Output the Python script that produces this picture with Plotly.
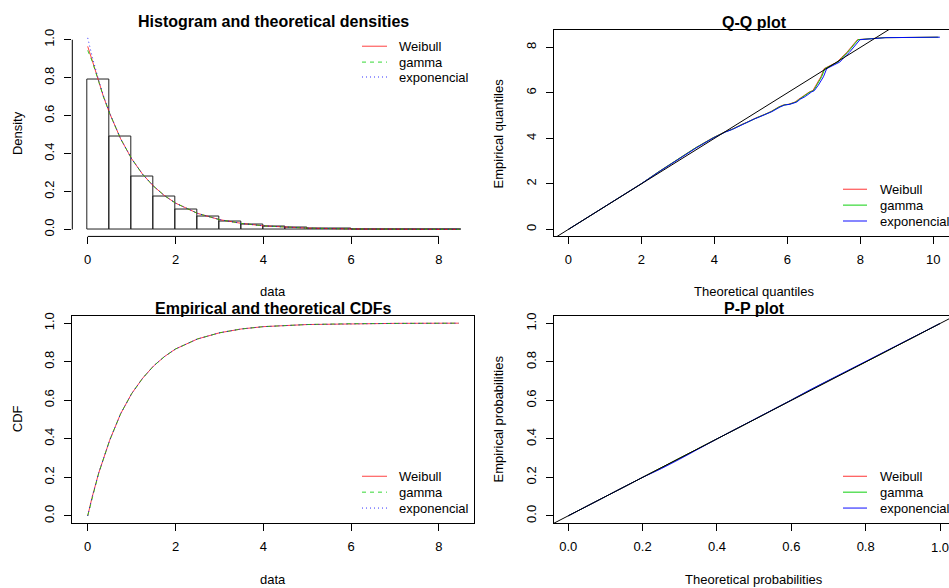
import plotly.graph_objects as go

W, H = 949, 588
FONT = "Liberation Sans, Arial, sans-serif"

# ---------------- data ----------------
names = ["Weibull", "gamma", "exponencial"]

# histogram (bins of width 0.5 starting at 0)
hist_left = [0.0, 0.5, 1.0, 1.5, 2.0, 2.5, 3.0, 3.5, 4.0, 4.5, 5.0, 5.5, 6.0, 6.5, 7.0, 7.5, 8.0]
hist_density = [0.792, 0.490, 0.281, 0.176, 0.106, 0.066, 0.043, 0.026, 0.017,
                0.010, 0.006, 0.004, 0.002, 0.0015, 0.001, 0.0006, 0.0004]
bin_width = 0.5

# theoretical densities
dens_x = [0.0, 0.05, 0.1, 0.25, 0.35, 0.5, 0.75, 1.0, 1.25, 1.5, 1.75, 2.0, 2.5, 3.0,
          3.5, 4.0, 4.5, 5.0, 6.0, 7.0, 8.45]
dens_weibull = [0.965, 0.925, 0.893, 0.782, 0.706, 0.612, 0.478, 0.373, 0.291, 0.228, 0.178,
                0.139, 0.085, 0.052, 0.032, 0.019, 0.012, 0.007, 0.0027, 0.001, 0.0002]
dens_gamma = [0.944, 0.915, 0.888, 0.780, 0.705, 0.612, 0.478, 0.373, 0.291, 0.228, 0.178,
              0.139, 0.085, 0.052, 0.032, 0.019, 0.012, 0.007, 0.0027, 0.001, 0.0002]
dens_expo = [1.010, 0.960, 0.913, 0.787, 0.711, 0.614, 0.478, 0.373, 0.291, 0.228, 0.178,
             0.139, 0.085, 0.052, 0.032, 0.019, 0.012, 0.007, 0.0027, 0.001, 0.0002]

# theoretical CDFs
cdf_x = [0.0, 0.1, 0.25, 0.5, 0.75, 1.0, 1.25, 1.5, 1.75, 2.0, 2.5, 3.0, 3.5, 4.0,
         5.0, 6.0, 7.0, 8.45]
cdf_weibull = [0.0, 0.096, 0.222, 0.392, 0.530, 0.634, 0.714, 0.778, 0.827, 0.866, 0.918,
               0.950, 0.970, 0.982, 0.993, 0.9975, 0.999, 1.0]
cdf_gamma = [0.0, 0.095, 0.221, 0.392, 0.530, 0.634, 0.714, 0.778, 0.827, 0.866, 0.918,
             0.950, 0.970, 0.982, 0.993, 0.9975, 0.999, 1.0]
cdf_expo = [0.0, 0.097, 0.223, 0.392, 0.530, 0.634, 0.714, 0.778, 0.827, 0.866, 0.918,
            0.950, 0.970, 0.982, 0.993, 0.9975, 0.999, 1.0]

# Q-Q plot: theoretical quantiles (x) vs empirical quantiles (y)
qq_emp = [0.0, 1.0, 2.01, 2.55, 3.07, 3.58, 4.02, 4.18, 4.28, 4.40, 4.48, 4.62, 4.70, 4.76,
          4.86, 4.92, 5.05, 5.10, 5.18, 5.38, 5.47, 5.50, 5.60, 5.72, 5.84, 6.05, 6.10,
          6.34, 6.71, 7.07, 7.20, 7.36, 7.55, 7.78, 8.34, 8.37, 8.43, 8.44, 8.45]
qq_weibull = [0.0, 1.0, 2.0, 2.49, 2.99, 3.48, 3.95, 4.15, 4.28, 4.48, 4.57, 4.76, 4.88, 4.95,
              5.08, 5.17, 5.37, 5.45, 5.55, 5.76, 5.89, 6.03, 6.21, 6.31, 6.43, 6.61, 6.70,
              6.78, 6.92, 7.01, 7.18, 7.37, 7.48, 7.63, 7.92, 8.30, 8.65, 9.45, 10.12]
qq_gamma = [0.0, 1.0, 2.0, 2.49, 2.99, 3.48, 3.96, 4.16, 4.29, 4.49, 4.58, 4.77, 4.89, 4.96,
            5.09, 5.18, 5.38, 5.46, 5.56, 5.77, 5.91, 6.05, 6.23, 6.33, 6.45, 6.63, 6.72,
            6.80, 6.94, 7.03, 7.20, 7.39, 7.50, 7.65, 7.94, 8.32, 8.67, 9.47, 10.14]
qq_expo = [0.0, 1.0, 2.0, 2.50, 3.00, 3.50, 3.97, 4.17, 4.30, 4.50, 4.60, 4.79, 4.90, 4.98,
           5.10, 5.20, 5.40, 5.48, 5.58, 5.80, 5.93, 6.07, 6.26, 6.35, 6.49, 6.67, 6.74,
           6.85, 6.99, 7.08, 7.25, 7.44, 7.55, 7.70, 7.99, 8.36, 8.70, 9.50, 10.18]

# P-P plot: theoretical probabilities (x) vs empirical probabilities (y)
pp_emp = [0.0, 0.1, 0.2, 0.245, 0.295, 0.4, 0.5, 0.602, 0.655, 0.703, 0.8, 0.9, 1.0]
pp_weibull = [0.0, 0.1, 0.2, 0.248, 0.298, 0.4, 0.5, 0.600, 0.652, 0.700, 0.8, 0.9, 1.0]
pp_gamma = [0.0, 0.1, 0.2, 0.249, 0.299, 0.4, 0.5, 0.600, 0.651, 0.700, 0.8, 0.9, 1.0]
pp_expo = [0.0, 0.1, 0.2, 0.250, 0.300, 0.4, 0.5, 0.600, 0.650, 0.699, 0.8, 0.9, 1.0]

hist_xticks = [0, 2, 4, 6, 8]
prob_ticks = [0.0, 0.2, 0.4, 0.6, 0.8, 1.0]
prob_ticktext = ["0.0", "0.2", "0.4", "0.6", "0.8", "1.0"]
qq_xticks = [0, 2, 4, 6, 8, 10]
qq_yticks = [0, 2, 4, 6, 8]

# ---------------- styles ----------------
col_light = ["rgba(255,0,0,0.75)", "rgba(0,205,0,0.8)", "rgba(0,0,255,0.8)"]
col_solid = ["rgba(255,0,0,0.8)", "rgba(0,205,0,0.95)", "rgba(0,0,255,0.95)"]
dashes = ["solid", "4px,4px", "1px,3px"]
TXT = 13


def px_x(p):
    return p / W


def px_y(p):
    return 1 - p / H


fig = go.Figure()

# ---- panel 1: histogram + densities ----
fig.add_trace(go.Bar(
    x=[l + bin_width / 2 for l in hist_left], y=hist_density, width=bin_width,
    marker=dict(color="rgba(255,255,255,0)", line=dict(color="#222222", width=1)),
    xaxis="x", yaxis="y", showlegend=False, hoverinfo="skip"))
for ys, c, d in zip([dens_weibull, dens_gamma, dens_expo], col_light, dashes):
    fig.add_trace(go.Scatter(x=dens_x, y=ys, mode="lines",
                             line=dict(color=c, width=1, dash=d),
                             xaxis="x", yaxis="y", showlegend=False))

# ---- panel 2: Q-Q ----
for xs, c in zip([qq_weibull, qq_gamma, qq_expo], col_solid):
    fig.add_trace(go.Scatter(x=xs, y=qq_emp, mode="lines",
                             line=dict(color=c, width=1),
                             xaxis="x2", yaxis="y2", showlegend=False))
fig.add_trace(go.Scatter(x=[-2, 14], y=[-2, 14], mode="lines",
                         line=dict(color="black", width=1),
                         xaxis="x2", yaxis="y2", showlegend=False))

# ---- panel 3: CDFs ----
for ys, c, d in zip([cdf_weibull, cdf_gamma, cdf_expo], col_light, dashes):
    fig.add_trace(go.Scatter(x=cdf_x, y=ys, mode="lines",
                             line=dict(color=c, width=1, dash=d),
                             xaxis="x3", yaxis="y3", showlegend=False))

# ---- panel 4: P-P ----
for xs, c in zip([pp_weibull, pp_gamma, pp_expo], col_solid):
    fig.add_trace(go.Scatter(x=xs, y=pp_emp, mode="lines",
                             line=dict(color=c, width=1),
                             xaxis="x4", yaxis="y4", showlegend=False))
fig.add_trace(go.Scatter(x=[-0.2, 1.2], y=[-0.2, 1.2], mode="lines",
                         line=dict(color="black", width=1),
                         xaxis="x4", yaxis="y4", showlegend=False))

tickfont = dict(family=FONT, size=TXT, color="black")


def ax(domain, rng, tickvals, fmt=None, showline=True, mirror=False, angle=None, standoff=4,
       ticktext=None):
    d = dict(domain=domain, range=rng, tickmode="array", tickvals=tickvals,
             showgrid=False, zeroline=False, ticks="outside", ticklen=7, tickwidth=1,
             tickcolor="black", tickfont=tickfont, showline=showline, mirror=mirror,
             linecolor="black", linewidth=1, fixedrange=True,
             ticklabelstandoff=standoff)
    if ticktext is not None:
        d["ticktext"] = ticktext
    if fmt:
        d["tickformat"] = fmt
    if angle is not None:
        d["tickangle"] = angle
    return d


top_y = [px_y(234), px_y(25.7)]
bot_y = [px_y(522.7), px_y(314)]
left_x = [px_x(72.3), px_x(474)]
right_x = [px_x(553.7), 1.0]

# the last P-P x label runs past the page edge: drawn separately below
pp_x_ticktext = prob_ticktext[:-1] + [""]

fig.update_layout(
    width=W, height=H, margin=dict(l=0, r=0, t=0, b=0),
    paper_bgcolor="white", plot_bgcolor="white", bargap=0,
    showlegend=False,
    xaxis=ax(left_x, [-0.351, 8.798], hist_xticks, showline=False),
    yaxis=ax(top_y, [-0.0366, 1.054], prob_ticks, ".1f", showline=False, angle=-90, standoff=5),
    xaxis2=ax(right_x, [-0.4, 10.43], qq_xticks, mirror=True),
    yaxis2=ax(top_y, [-0.306, 8.787], qq_yticks, angle=-90, standoff=5),
    xaxis3=ax(left_x, [-0.351, 8.798], hist_xticks, mirror=True),
    yaxis3=ax(bot_y, [-0.038, 1.038], prob_ticks, ".1f", mirror=True, angle=-90, standoff=5),
    xaxis4=ax(right_x, [-0.0393, 1.0242], prob_ticks, mirror=True, ticktext=pp_x_ticktext),
    yaxis4=ax(bot_y, [-0.0383, 1.0398], prob_ticks, ".1f", angle=-90, standoff=5),
)
for k in ["xaxis", "xaxis2", "xaxis3", "xaxis4"]:
    fig.layout[k].anchor = "y" + k[5:]
for k in ["yaxis", "yaxis2", "yaxis3", "yaxis4"]:
    fig.layout[k].anchor = "x" + k[5:]

shapes = []
# R-style axis lines for the histogram (from first to last tick)
shapes.append(dict(type="line", xref="x", yref="y domain", x0=hist_xticks[0], x1=hist_xticks[-1],
                   y0=0, y1=0, line=dict(color="black", width=1)))
shapes.append(dict(type="line", xref="x domain", yref="y", x0=0, x1=0,
                   y0=prob_ticks[0], y1=prob_ticks[-1], line=dict(color="black", width=1)))

annotations = []


def text(x, y, s, size=TXT, bold=False, angle=0, xanchor="center"):
    annotations.append(dict(x=px_x(x), y=px_y(y), xref="paper", yref="paper",
                            text=f"<b>{s}</b>" if bold else s, showarrow=False,
                            font=dict(family=FONT, size=size, color="black"),
                            textangle=angle, xanchor=xanchor, yanchor="middle"))


# last P-P tick label, placed at its data position on x4
annotations.append(dict(x=prob_ticks[-1], xref="x4", y=px_y(547.5), yref="paper",
                        text=prob_ticktext[-1], showarrow=False, xanchor="center",
                        yanchor="middle", font=dict(family=FONT, size=TXT, color="black")))

# titles
text(273, 18, "Histogram and theoretical densities", 16, True)
text(754.3, 19, "Q-Q plot", 16, True)
text(273, 307, "Empirical and theoretical CDFs", 16, True)
text(754.3, 307, "P-P plot", 16, True)
# axis titles
text(273, 289, "data")
text(754.3, 289, "Theoretical quantiles")
text(273, 579.5, "data")
text(754.3, 579.5, "Theoretical probabilities")
text(17, 130, "Density", angle=-90)
text(498.3, 130, "Empirical quantiles", angle=-90)
text(17, 418, "CDF", angle=-90)
text(498.3, 418, "Empirical probabilities", angle=-90)


def legend(x0, x1, xt, ys, cols, dsh):
    for nm, yy, c, d in zip(names, ys, cols, dsh):
        shapes.append(dict(type="line", xref="paper", yref="paper",
                           x0=px_x(x0), x1=px_x(x1), y0=px_y(yy), y1=px_y(yy),
                           line=dict(color=c, width=1, dash=d)))
        text(xt, yy, nm, xanchor="left")


legend(362, 387, 397, [42.5, 58.5, 73.5], col_light, dashes)
legend(843, 867, 878, [186.5, 202.5, 218.5], col_solid, ["solid"] * 3)
legend(362, 387, 397, [475.5, 491.5, 507.5], col_light, dashes)
legend(843, 867, 878, [475.5, 491.5, 507.5], col_solid, ["solid"] * 3)

fig.update_layout(shapes=shapes, annotations=annotations)
fig.write_html("out.html")
